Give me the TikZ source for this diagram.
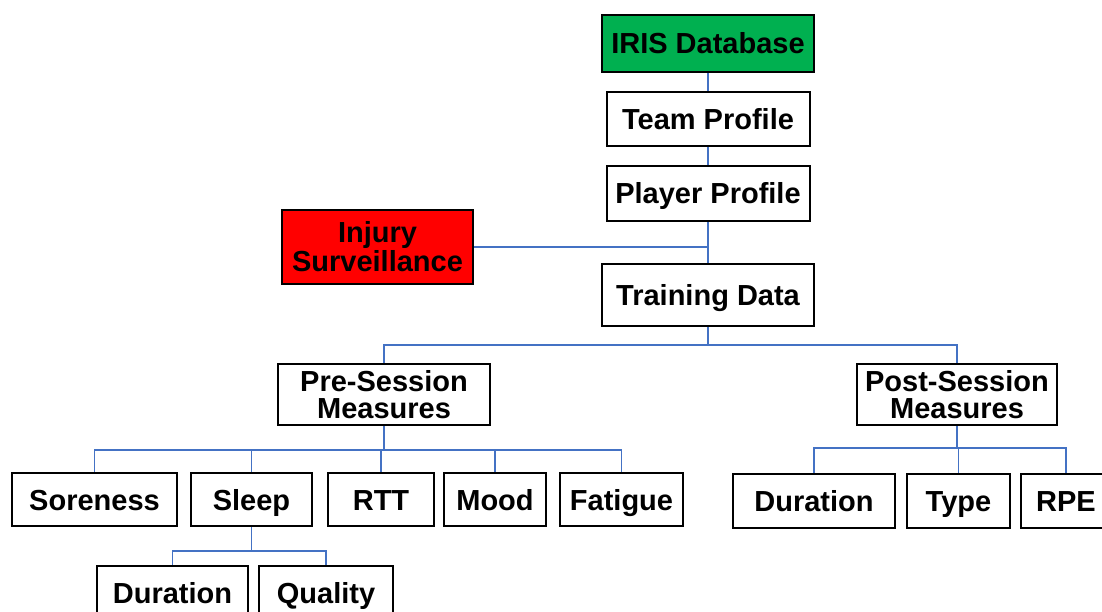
\documentclass[tikz,border=0pt]{standalone}
\usepackage{fontspec}
\setmainfont{Liberation Sans}
\usetikzlibrary{positioning}
\definecolor{irisgreen}{RGB}{0,176,80}
\definecolor{linkblue}{RGB}{68,114,196}
\tikzset{
  box/.style={draw, line width=2pt, inner sep=0pt, align=center,
    font=\fontsize{29}{27}\selectfont\bfseries},
  onebox/.style={box, text height=21pt, text depth=0pt},
  link/.style={draw=linkblue, line width=1.4pt}
}

\begin{document}
\begin{tikzpicture}[x=1pt,y=1pt]
    \useasboundingbox (0,0) rectangle (1102,-612);
    % main column
    \node [onebox, fill=irisgreen, minimum width=212pt, minimum height=57pt] (iris) at (708,-43.5) {IRIS Database};
    \node [onebox, minimum width=203pt, minimum height=54pt] (team) at (708,-119) {Team Profile};
    \node [onebox, minimum width=203pt, minimum height=55pt] (player) at (708,-193.5) {Player Profile};
    \node [onebox, minimum width=212pt, minimum height=62pt] (train) at (708,-295) {Training Data};
    \node [box, fill=red, minimum width=191pt, minimum height=74pt, font=\fontsize{29}{29}\selectfont\bfseries] (injury) at (377.5,-247) {Injury\\Surveillance};
    \draw [link] (iris.south) -- (team.north);
    \draw [link] (team.south) -- (player.north);
    \draw [link] (player.south) -- (train.north);
    \draw [link] (injury.east) -- (injury.east -| player.south);
    % sessions
    \node [box, minimum width=212pt, minimum height=61pt] (pre) at (384,-394.5) {Pre-Session\\Measures};
    \node [box, minimum width=200pt, minimum height=61pt] (post) at (957,-394.5) {Post-Session\\Measures};
    \draw [link] (train.south) -- ++(0,-18) coordinate (split) -| (pre.north);
    \draw [link] (split) -| (post.north);
    % pre-session measures
    \foreach \name/\txt/\x/\w in {sore/Soreness/94.5/165, sleep/Sleep/251.5/121, rtt/RTT/381/106, mood/Mood/495/102, fatigue/Fatigue/621.5/123}{
      \node [onebox, minimum width=\w pt, minimum height=53pt] (\name) at (\x,-499.5) {\txt};
      \draw [link] (pre.south) -- ++(0,-24) -| (\name.north);
    }
    % sleep
    \foreach \name/\txt/\x/\w in {sdur/Duration/172.5/151, quality/Quality/326/134}{
      \node [onebox, minimum width=\w pt, minimum height=53pt] (\name) at (\x,-592.5) {\txt};
      \draw [link] (sleep.south) -- ++(0,-24) -| (\name.north);
    }
    % post-session measures
    \foreach \name/\txt/\x/\w in {pdur/Duration/814/162, type/Type/958.5/103, rpe/RPE/1066/90}{
      \node [onebox, minimum width=\w pt, minimum height=54pt] (\name) at (\x,-501) {\txt};
      \draw [link] (post.south) -- ++(0,-22) -| (\name.north);
    }
\end{tikzpicture}
\end{document}
